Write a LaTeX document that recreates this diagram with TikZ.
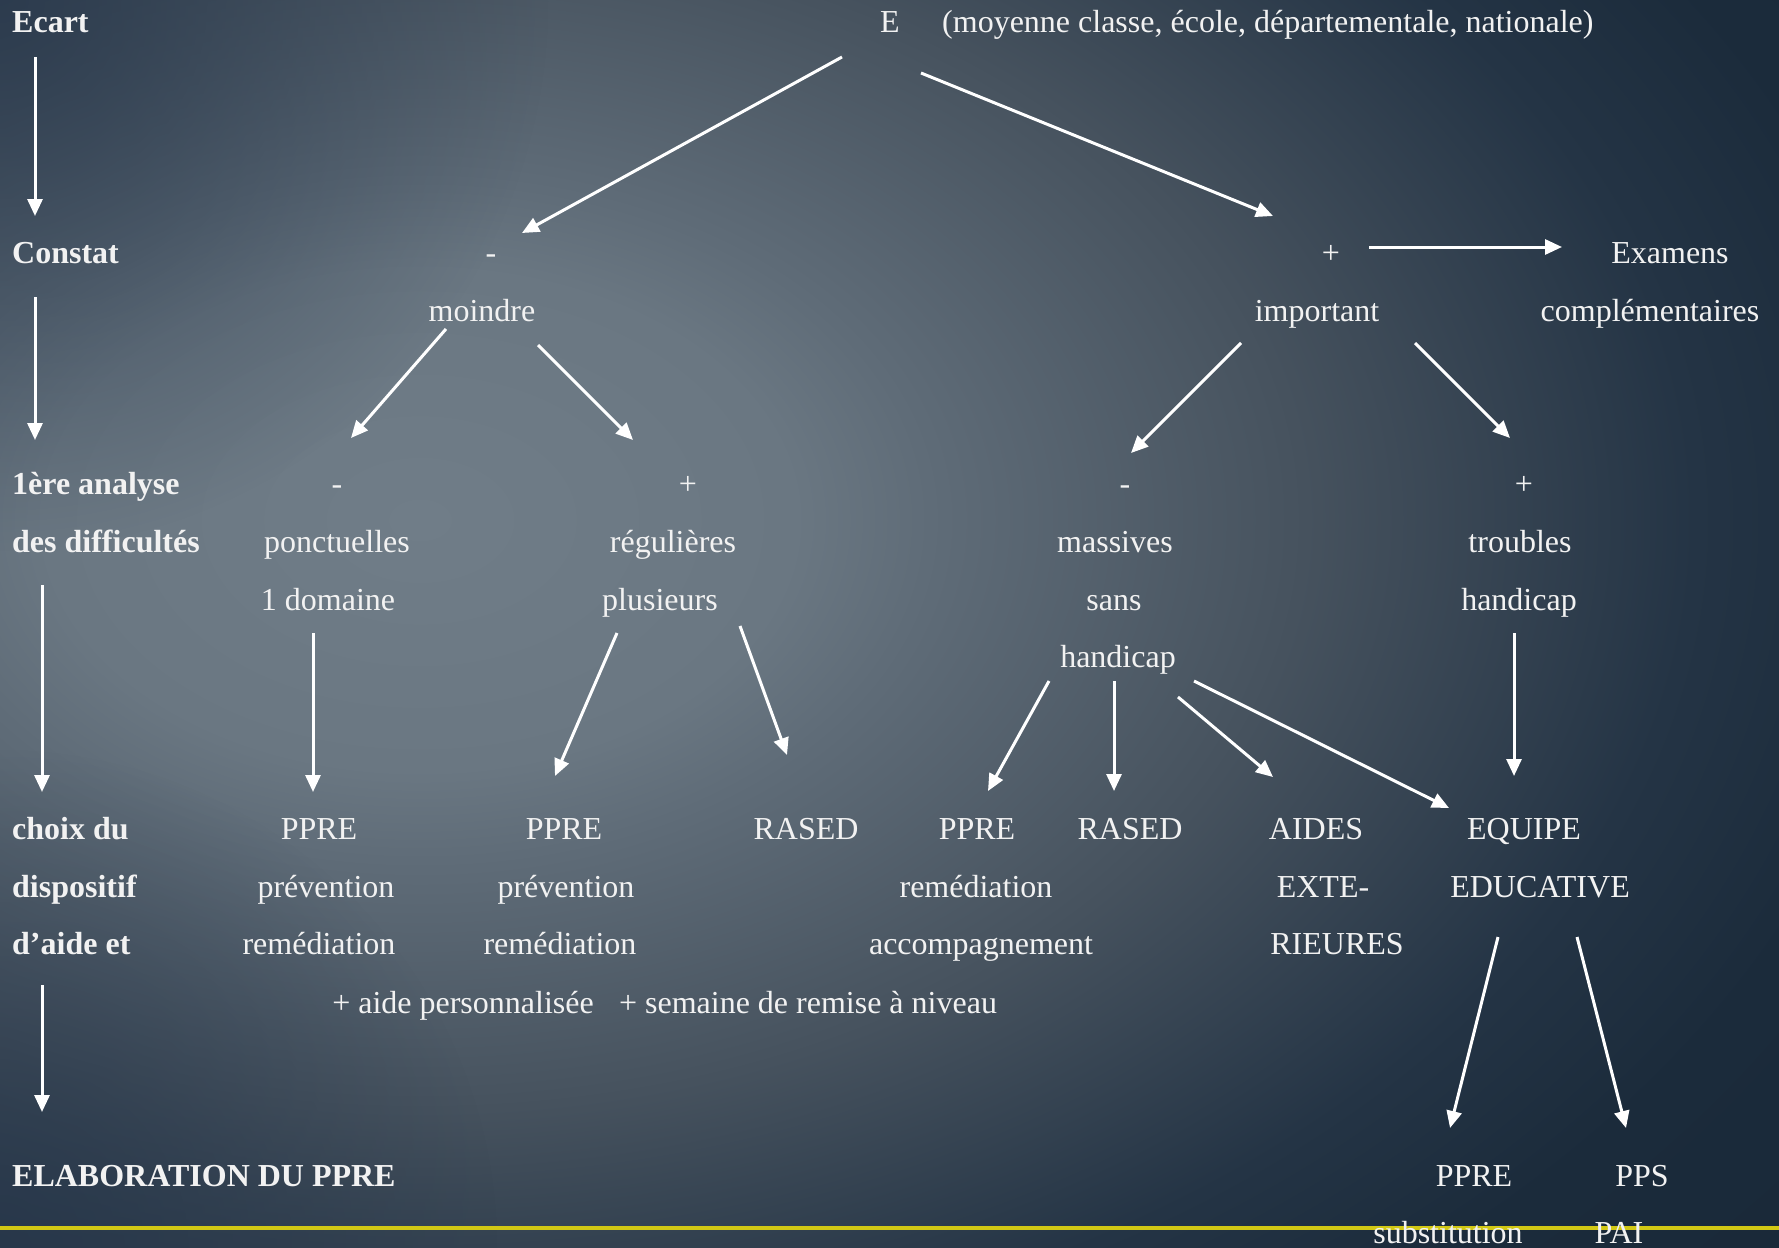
\documentclass[tikz,border=0pt]{standalone}
\usepackage{fontspec}
\setmainfont{Liberation Serif}
\usetikzlibrary{arrows.meta,calc,fadings}
\definecolor{c0}{HTML}{707D88}
\definecolor{c1}{HTML}{6A7782}
\definecolor{c2}{HTML}{5F6C78}
\definecolor{c3}{HTML}{46525E}
\definecolor{c4}{HTML}{243445}
\definecolor{c5}{HTML}{1B2B3B}
\definecolor{c6}{HTML}{172636}
\definecolor{fg}{HTML}{F2F2F2}
\definecolor{yline}{HTML}{D2C814}
\definecolor{cornerc}{HTML}{26364A}
\pgfdeclareradialshading{bgshade}{\pgfpointorigin}{color(0bp)=(c0); color(4.46bp)=(c1); color(6.07bp)=(c2); color(10.54bp)=(c3); color(15.18bp)=(c4); color(17.86bp)=(c5); color(25bp)=(c6); color(50bp)=(c6)}
\tikzfading[name=cornerfade, inner color=transparent!20, outer color=transparent!100]
\begin{document}
\begin{tikzpicture}[x=1pt,y=-1pt,
  txt/.style={text=fg, font=\fontsize{32}{38}\selectfont, inner sep=0pt, anchor=base},
  lbl/.style={txt, font=\fontsize{32}{38}\selectfont\bfseries, anchor=base west},
  arr/.style={draw=white, line width=3pt, -{Triangle[length=17pt,width=15pt]}}]
\useasboundingbox (0,0) rectangle (1779,1247);
\begin{scope}
\clip (0,0) rectangle (1779,1247);
\fill[c6] (0,0) rectangle (1779,1247);
\shade[shading=bgshade] (420,520) ellipse [x radius=2100, y radius=1400];
\fill[cornerc, path fading=cornerfade] (0,0) circle (550);
\fill[cornerc, path fading=cornerfade] (0,1247) circle (500);
\end{scope}
\draw[yline, line width=4pt] (0,1228) -- (1779,1228);

% left column
\node[lbl] (ecart) at (12,33) {Ecart};
\node[lbl] (constat) at (12,263) {Constat};
\node[lbl] (ana1) at (12,494) {1ère analyse};
\node[lbl] (ana2) at (12,552) {des difficultés};
\node[lbl] (choix1) at (12,839) {choix du};
\node[lbl] (choix2) at (12,897) {dispositif};
\node[lbl] (choix3) at (12,954) {d’aide et};
\node[lbl] (elab) at (12,1186) {ELABORATION DU PPRE};

% tree
\node[txt] (E) at (890,33) {E};
\node[txt, anchor=base west] (moy) at (942,33) {(moyenne classe, école, départementale, nationale)};
\node[txt] (m1) at (491,263) {-};
\node[txt] (moindre) at (482,321) {moindre};
\node[txt] (p1) at (1331,263) {+};
\node[txt] (important) at (1317,321) {important};
\node[txt] (exam) at (1670,263) {Examens};
\node[txt] (compl) at (1650,321) {complémentaires};
\node[txt] (m2) at (337,494) {-};
\node[txt] (ponct) at (337,552) {ponctuelles};
\node[txt] (dom) at (328,610) {1 domaine};
\node[txt] (p2) at (688,494) {+};
\node[txt] (reg) at (673,552) {régulières};
\node[txt] (plus) at (660,610) {plusieurs};
\node[txt] (m3) at (1125,494) {-};
\node[txt] (mass) at (1115,552) {massives};
\node[txt] (sans) at (1114,610) {sans};
\node[txt] (hand1) at (1118,667) {handicap};
\node[txt] (p3) at (1524,494) {+};
\node[txt] (troub) at (1520,552) {troubles};
\node[txt] (hand2) at (1519,610) {handicap};
\node[txt] (ppre1) at (319,839) {PPRE};
\node[txt] (prev1) at (326,897) {prévention};
\node[txt] (rem1) at (319,954) {remédiation};
\node[txt] (aide) at (463,1013) {+ aide personnalisée};
\node[txt] (sem) at (808,1013) {+ semaine de remise à niveau};
\node[txt] (ppre2) at (564,839) {PPRE};
\node[txt] (prev2) at (566,897) {prévention};
\node[txt] (rem2) at (560,954) {remédiation};
\node[txt] (rased1) at (806,839) {RASED};
\node[txt] (ppre3) at (977,839) {PPRE};
\node[txt] (rem3) at (976,897) {remédiation};
\node[txt] (acc) at (981,954) {accompagnement};
\node[txt] (rased2) at (1130,839) {RASED};
\node[txt] (aides) at (1316,839) {AIDES};
\node[txt] (exte) at (1323,897) {EXTE-};
\node[txt] (rieures) at (1337,954) {RIEURES};
\node[txt] (equipe) at (1524,839) {EQUIPE};
\node[txt] (educ) at (1540,897) {EDUCATIVE};
\node[txt] (ppre4) at (1474,1186) {PPRE};
\node[txt] (pps) at (1642,1186) {PPS};
\node[txt] (subst) at (1448,1243) {substitution};
\node[txt] (pai) at (1619,1243) {PAI};

% left arrows
\draw[arr] ($(ecart.base west)+(23,24)$) -- ($(constat.base west)+(23,-47)$);
\draw[arr] ($(constat.base west)+(23,34)$) -- ($(ana1.base west)+(23,-54)$);
\draw[arr] ($(ana2.base west)+(30,33)$) -- ($(choix1.base west)+(30,-47)$);
\draw[arr] ($(choix3.base west)+(30,31)$) -- ($(elab.base west)+(30,-74)$);

% tree arrows
\draw[arr] ($(E.base)+(-48,24)$) -- ($(m1.base)+(31,-30)$);
\draw[arr] ($(E.base)+(31,40)$) -- ($(p1.base)+(-58,-47)$);
\draw[arr] ($(p1.base)+(38,-16)$) -- ($(exam.base)+(-108,-16)$);
\draw[arr] ($(moindre.base)+(-36,8)$) -- ($(m2.base)+(14,-56)$);
\draw[arr] ($(moindre.base)+(56,24)$) -- ($(p2.base)+(-55,-54)$);
\draw[arr] ($(important.base)+(-76,22)$) -- ($(m3.base)+(6,-41)$);
\draw[arr] ($(important.base)+(98,22)$) -- ($(p3.base)+(-14,-56)$);
\draw[arr] ($(dom.base)+(-15,23)$) -- ($(ppre1.base)+(-6,-47)$);
\draw[arr] ($(plus.base)+(-43,23)$) -- ($(ppre2.base)+(-9,-63)$);
\draw[arr] ($(plus.base)+(80,16)$) -- ($(rased1.base)+(-19,-84)$);
\draw[arr] ($(hand1.base)+(-69,14)$) -- ($(ppre3.base)+(11,-48)$);
\draw[arr] ($(hand1.base)+(-4,14)$) -- ($(rased2.base)+(-16,-48)$);
\draw[arr] ($(hand1.base)+(60,30)$) -- ($(aides.base)+(-43,-62)$);
\draw[arr] ($(hand1.base)+(76,14)$) -- ($(equipe.base)+(-75,-31)$);
\draw[arr] ($(hand2.base)+(-5,23)$) -- ($(equipe.base)+(-10,-63)$);
\draw[arr] ($(educ.base)+(-42,40)$) -- ($(ppre4.base)+(-24,-58)$);
\draw[arr] ($(educ.base)+(37,40)$) -- ($(pps.base)+(-16,-58)$);
\end{tikzpicture}
\end{document}
